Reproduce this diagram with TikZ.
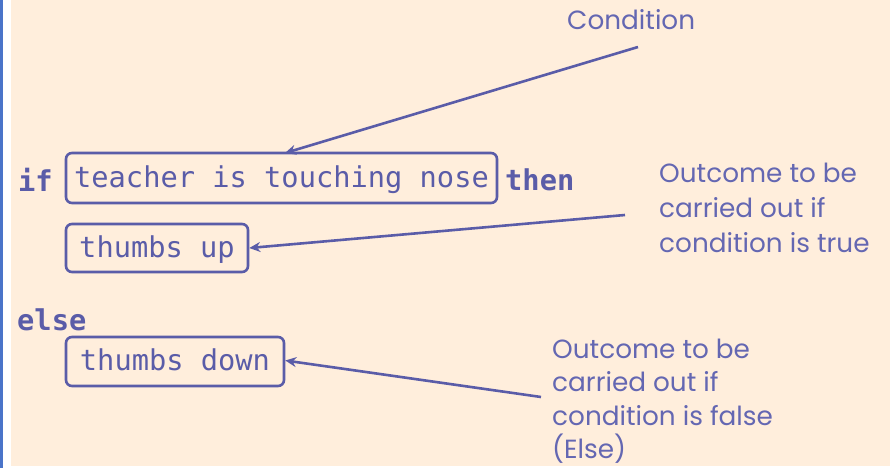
\documentclass[tikz,border=0pt]{standalone}
\usepackage{fontspec}
\setmonofont{DejaVu Sans Mono}
\newfontfamily\labelfont{Poppins}
\usetikzlibrary{arrows.meta}
\definecolor{peach}{HTML}{FFEEDC}
\definecolor{ink}{HTML}{5A5CA8}
\definecolor{lblink}{HTML}{6467B2}
\definecolor{stripe}{HTML}{4A74C9}
\tikzset{
  codebox/.style={draw=ink, line width=2.6pt, rounded corners=6pt, inner sep=0pt, text height=23pt, text depth=5pt, font=\ttfamily\fontsize{28.7}{30}\selectfont, text=ink},
  kw/.style={font=\ttfamily\bfseries\fontsize{28.7}{30}\selectfont, text=ink, inner sep=0pt, anchor=west},
  lbl/.style={font=\labelfont\fontsize{26.3}{35}\selectfont, text=lblink, align=left, inner sep=0pt, anchor=base west},
  pointer/.style={draw=ink, line width=2.6pt, -{Stealth[length=11pt,width=10pt]}},
}
\begin{document}
\begin{tikzpicture}[x=1pt,y=-1pt]
\useasboundingbox (0,0) rectangle (890,468);
\fill[white] (0,0) rectangle (890,468);
\fill[stripe] (0,0) rectangle (2.5,468);
\fill[peach] (11,0) rectangle (890,466);
\node[kw] (if) at (18,180) {if};
\node[codebox, minimum width=431pt, minimum height=50pt] (cond) at (281.5,178) {teacher is touching nose};
\node[kw] (then) at (505,180) {then};
\node[codebox, minimum width=182pt, minimum height=48pt] (up) at (157,248) {thumbs up};
\node[kw] (else) at (17,320) {else};
\node[codebox, minimum width=218pt, minimum height=49pt] (down) at (175,361.5) {thumbs down};
\node[lbl] (lcond) at (567,30) {Condition};
\node[lbl] (ltrue) at (659,252) {Outcome to be\\carried out if\\condition is true};
\node[lbl, font=\labelfont\fontsize{26.3}{33.5}\selectfont] (lfalse) at (552,458.5) {Outcome to be\\carried out if\\condition is false\\(Else)};
\coordinate (s1) at (638,47);
\coordinate (s2) at (625,215);
\coordinate (s3) at (541,397);
\coordinate (t1) at (285,153);
\draw[pointer] (s1) -- (t1);
\draw[pointer] (s2) -- (up.east);
\draw[pointer] (s3) -- ([yshift=1pt]down.east);
\end{tikzpicture}
\end{document}
